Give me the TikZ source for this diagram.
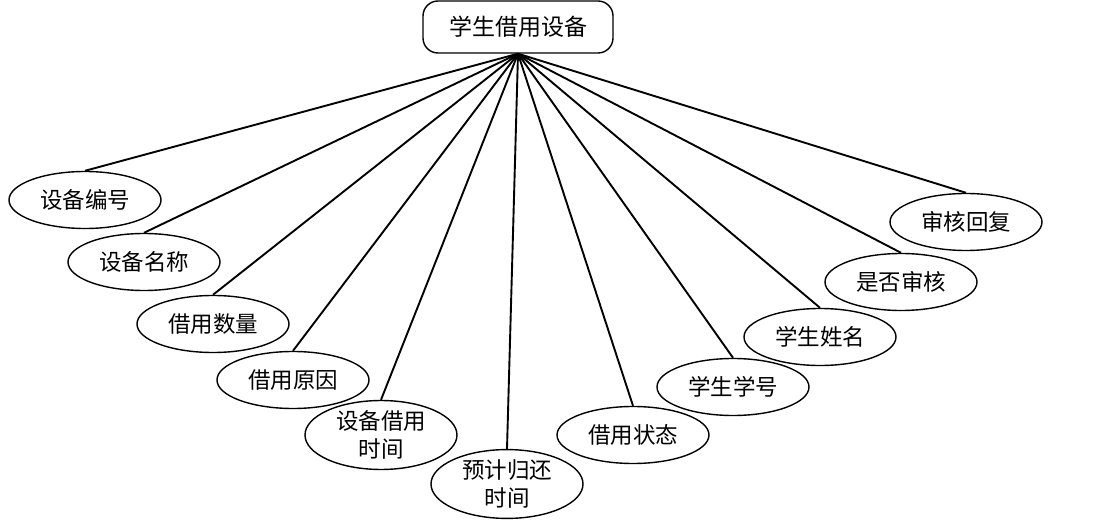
\documentclass[tikz,border=0pt]{standalone}
\usepackage{fontspec}
\setmainfont{Noto Sans CJK SC}
\usetikzlibrary{shapes.geometric}
\begin{document}
\begin{tikzpicture}[x=1pt,y=-1pt,
  attr/.style={draw,ellipse,line width=1.4pt,minimum width=152pt,minimum height=57pt,inner sep=0pt,
    font=\fontsize{22.5}{28}\selectfont,align=center},
  ent/.style={draw,rounded corners=15pt,line width=1.4pt,minimum width=190pt,minimum height=52pt,inner sep=0pt,
    font=\fontsize{23}{28}\selectfont},
  link/.style={line width=1.9pt}]
\useasboundingbox (0,0) rectangle (1103,521);
\node[ent] (top) at (518,27) {学生借用设备};
\node[attr] (a1) at (85,200) {设备编号};
\node[attr] (a2) at (144,262) {设备名称};
\node[attr] (a3) at (213,324) {借用数量};
\node[attr] (a4) at (293,380) {借用原因};
\node[attr] (a5) at (381,435) {设备借用\\时间};
\node[attr] (a6) at (507,484) {预计归还\\时间};
\node[attr] (a7) at (633,435) {借用状态};
\node[attr] (a8) at (733,387) {学生学号};
\node[attr] (a9) at (820,337) {学生姓名};
\node[attr] (a10) at (901,282) {是否审核};
\node[attr] (a11) at (966,222) {审核回复};
\foreach \n in {a1,a2,a3,a4,a5,a6,a7,a8,a9,a10,a11}
  \draw[link] (top.south) -- (\n.north);
\end{tikzpicture}
\end{document}
